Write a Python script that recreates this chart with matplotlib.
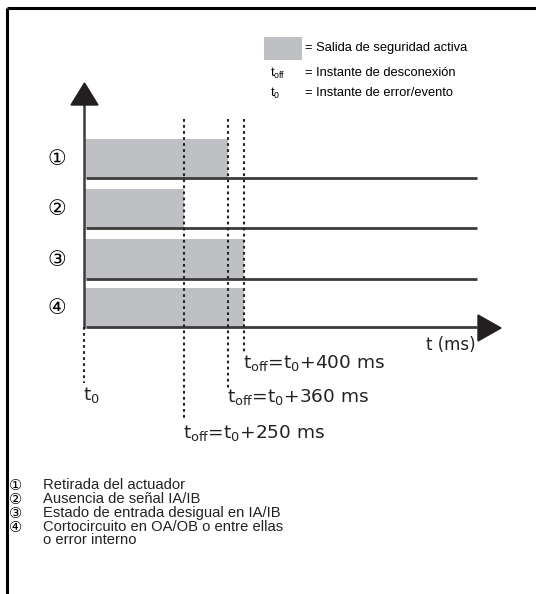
import matplotlib
matplotlib.use("Agg")
import matplotlib.pyplot as plt
from matplotlib.patches import Rectangle, Polygon

plt.rcParams['mathtext.default'] = 'regular'

# ---- data ----
row_labels = ['①', '②', '③', '④']
off_times = [360, 250, 400, 400]          # ms, end of active safety output
event_times = [0, 250, 360, 400]          # dotted reference lines (ms)
event_labels = ['t$_0$', 't$_{off}$=t$_0$+250 ms', 't$_{off}$=t$_0$+360 ms',
                't$_{off}$=t$_0$+400 ms']
legend_texts = ['= Salida de seguridad activa', '= Instante de desconexión',
                '= Instante de error/evento']
legend_syms = ['', 't$_{off}$', 't$_0$']
notes = ['Retirada del actuador', 'Ausencia de señal IA/IB',
         'Estado de entrada desigual en IA/IB',
         'Cortocircuito en OA/OB o entre ellas\no error interno']
axis_label = 't (ms)'

# ---- layout (pixels) ----
W, H = 536, 594
x0_px, px_per_ms = 84, 0.4
fig = plt.figure(figsize=(W / 100, H / 100), dpi=100)
ax = fig.add_axes([0, 0, 1, 1])
ax.set_xlim((0 - x0_px) / px_per_ms, (W - x0_px) / px_per_ms)
ax.set_ylim(H, 0)
ax.axis('off')

def ms(px):
    return (px - x0_px) / px_per_ms

GRAY = '#bfc0c3'
LINE = '#3c3c3c'
BLACK = '#231f20'
sym_font = ['DejaVu Sans', 'Noto Sans CJK JP']

# frame (top and left)
ax.plot([ms(6.5), ms(536)], [7.5, 7.5], color='black', lw=2.2, solid_capstyle='butt')
ax.plot([ms(6.5), ms(6.5)], [7.5, 594], color='black', lw=2.2, solid_capstyle='butt')

# rows
row_tops = [139, 189, 239, 288]
row_bases = [178, 228, 279, 327]
for lab, t_off, top, base in zip(row_labels, off_times, row_tops, row_bases):
    ax.add_patch(Rectangle((ms(85), top), t_off - ms(85), base - top,
                           facecolor=GRAY, edgecolor='none', zorder=1))
    ax.plot([ms(86), ms(477)], [base, base], color=LINE, lw=2, zorder=3,
            solid_capstyle='butt')
    ax.text(ms(57), (top + base) / 2 + 0.5, lab, family=sym_font, fontsize=15,
            ha='center', va='center', color='black')

# vertical axis and arrow
ax.plot([0, 0], [327, 104], color=LINE, lw=1.8, zorder=3)
ax.add_patch(Polygon([[ms(71), 105], [ms(98), 105], [ms(84.5), 83]],
                     closed=True, facecolor=BLACK, edgecolor=BLACK, zorder=4))
# horizontal arrow
ax.add_patch(Polygon([[ms(478), 315], [ms(478), 341], [ms(501), 328]],
                     closed=True, facecolor=BLACK, edgecolor=BLACK, zorder=4))
ax.text(ms(476), 345, axis_label, fontsize=12, ha='right', va='center',
        family='DejaVu Sans', color='#222222')

# dotted lines
dot_ranges = [(327, 383), (119, 418), (119, 388), (119, 353)]
for t, (ya, yb) in zip(event_times, dot_ranges):
    ax.plot([t, t], [ya, yb], color='#222222', lw=1.5,
            linestyle=(0, (1.3, 1.6)), zorder=5)

label_pos = [(83, 395), (183, 433), (227, 397), (243, 363)]
for lab, (lx, ly) in zip(event_labels, label_pos):
    ax.text(ms(lx), ly, lab, fontsize=13.3, ha='left', va='center',
            family='DejaVu Sans', color='#222222')

# legend
ax.add_patch(Rectangle((ms(264), 37), ms(302) - ms(264), 23,
                       facecolor=GRAY, edgecolor='none'))
leg_y = [48, 73, 93]
for sym, txt, y in zip(legend_syms, legend_texts, leg_y):
    if sym:
        ax.text(ms(270), y, sym, fontsize=9, ha='left', va='center',
                family='Liberation Sans')
    ax.text(ms(305), y, txt, fontsize=9.3, ha='left', va='center',
            family='Liberation Sans')

# notes
note_y = [485, 499, 513, 527]
line_step = 13.5
for lab, txt, y in zip(row_labels, notes, note_y):
    ax.text(ms(15.5), y, lab, fontsize=10.5, ha='center', va='center',
            family=sym_font)
    for i, line in enumerate(txt.split('\n')):
        ax.text(ms(43), y + i * line_step, line, fontsize=10.6, ha='left',
                va='center', family='Liberation Sans', color='#222222')

fig.savefig('out.png', dpi=100)
